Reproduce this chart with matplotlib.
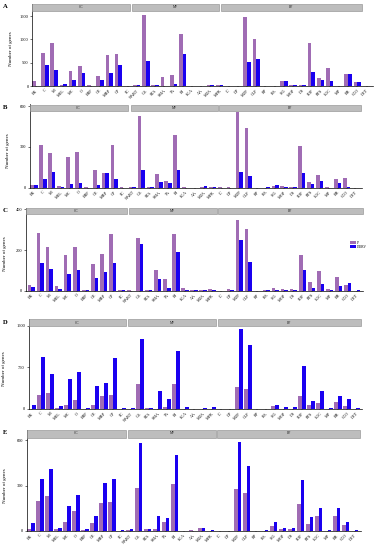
import matplotlib
matplotlib.use("Agg")
import matplotlib.pyplot as plt
from matplotlib.patches import Rectangle, Patch
import numpy as np

plt.rcParams['font.family'] = ['Liberation Serif', 'DejaVu Serif']

categories = ["EK", "C", "M", "MEL", "MC", "O", "ERP", "OE", "MBP", "CP", "SC",
              "NABT", "CA", "STA", "SMA", "TA", "BI", "ECA", "AA", "MTA", "MFR",
              "IC", "DP", "MTP", "CLP", "RP", "RA", "SIG", "MOP", "DS", "SOP",
              "RTS", "LOC", "MP", "BR", "CCO", "DET"]
groups = ["CC", "MF", "BP"]
series = ["IP", "DORV"]

ip_A = [107, 714, 914, 20, 321, 429, 14, 207, 671, 686, 0,
        14, 1528, 29, 200, 236, 1107, 0, 0, 29, 14,
        0, 0, 1471, 1014, 0, 0, 100, 29, 14, 914, 171, 393, 0, 264, 86, 0]
dorv_A = [5, 443, 343, 36, 129, 286, 0, 121, 271, 443, 0,
          21, 529, 29, 0, 43, 686, 0, 0, 14, 14,
          0, 0, 507, 571, 0, 0, 100, 14, 14, 300, 129, 114, 0, 250, 86, 0]

ip_B = [20, 315, 253, 15, 229, 261, 2, 128, 111, 312, 2,
        5, 531, 5, 103, 49, 389, 2, 0, 2, 2,
        2, 2, 556, 438, 0, 0, 15, 10, 7, 310, 44, 96, 2, 64, 71, 0]
dorv_B = [22, 66, 118, 5, 27, 37, 0, 22, 106, 64, 0,
          7, 128, 7, 44, 37, 128, 0, 0, 10, 2,
          0, 0, 113, 89, 0, 2, 20, 5, 3, 106, 25, 47, 0, 37, 7, 0]

ip_C = [30, 282, 215, 21, 175, 215, 2, 130, 180, 277, 3,
        3, 261, 2, 102, 56, 277, 15, 2, 2, 10,
        0, 10, 346, 302, 0, 2, 15, 7, 8, 174, 44, 95, 10, 67, 28, 0]
dorv_C = [18, 134, 105, 10, 80, 103, 5, 64, 90, 134, 3,
          0, 228, 3, 59, 15, 192, 2, 2, 5, 2,
          0, 2, 251, 141, 0, 3, 5, 5, 3, 102, 15, 34, 2, 23, 36, 2]

ip_D = [6, 258, 288, 12, 66, 156, 0, 66, 228, 258, 0,
        6, 444, 12, 6, 42, 456, 6, 0, 0, 6,
        0, 0, 396, 354, 0, 0, 48, 6, 6, 234, 66, 102, 6, 120, 48, 0]
dorv_D = [66, 930, 630, 54, 546, 660, 12, 408, 468, 918, 12,
          18, 1266, 18, 330, 186, 1044, 30, 6, 12, 30,
          6, 6, 1440, 1158, 2, 6, 66, 42, 42, 768, 138, 324, 18, 228, 180, 12]

ip_E = [11, 199, 234, 15, 62, 130, 4, 53, 183, 194, 2,
        9, 285, 11, 15, 57, 309, 0, 4, 18, 2,
        2, 2, 280, 249, 0, 2, 33, 11, 11, 176, 49, 99, 2, 101, 40, 0]
dorv_E = [55, 346, 408, 18, 163, 236, 11, 101, 318, 342, 4,
          15, 585, 15, 101, 88, 503, 2, 2, 22, 9,
          2, 2, 587, 430, 2, 9, 57, 22, 18, 340, 90, 154, 7, 154, 60, 4]

yticks_A = [0, 500, 1000, 1500]
yticks_B = [0, 300, 600]
yticks_C = [0, 200, 400]
yticks_D = [0, 750, 1500]
yticks_E = [0, 300, 600]

IP_COLOR = "#a06cb4"
DORV_COLOR = "#1a00f0"

W, H = 381, 550
fig = plt.figure(figsize=(W / 100, H / 100), dpi=100)

# layout per panel: letter, data, ticks, spine_x, first-center x, spacing,
# header top, header bottom, zero line y, y units per px, ylabel x, header boxes
panels = [
    ("A", ip_A, dorv_A, yticks_A, 32.3, 35.7, 9.19, 4.0, 11.0, 86.0, 1500 / 70.0, 13,
     [(32.3, 130), (132, 219), (221, 362)]),
    ("B", ip_B, dorv_B, yticks_B, 29.5, 34.0, 8.93, 104.5, 111.0, 187.7, 600 / 81.4, 10,
     [(29.5, 128), (130.7, 217.7), (219.3, 360.7)]),
    ("C", ip_C, dorv_C, yticks_C, 26.0, 31.3, 9.04, 207.5, 214.0, 290.7, 200 / 40.7, 7,
     [(26.0, 126.7), (129, 216.7), (218.3, 362.7)]),
    ("D", ip_D, dorv_D, yticks_D, 28.5, 32.0, 9.0, 319.0, 326.0, 409.0, 750 / 41.7, 6,
     [(28.5, 126), (128, 216), (217.7, 360.7)]),
    ("E", ip_E, dorv_E, yticks_E, 26.7, 31.0, 8.99, 429.5, 437.5, 531.0, 300 / 45.3, 7,
     [(26.7, 126), (128.3, 216), (217.3, 360)]),
]

x = np.arange(len(categories))
bw = 0.4
axes = []
for (letter, ip, dorv, yt, spine, ek, sp, htop, hbot, zero, upp, ylx, boxes) in panels:
    xl0 = -(ek - spine) / sp
    xl1 = 36.7
    right = spine + (xl1 - xl0) * sp
    ax = fig.add_axes([spine / W, 1 - zero / H, (right - spine) / W, (zero - htop) / H])
    ax.bar(x - bw / 2, ip, width=bw, color=IP_COLOR, linewidth=0, label=series[0])
    ax.bar(x + bw / 2, dorv, width=bw, color=DORV_COLOR, linewidth=0, label=series[1])
    ax.set_xlim(xl0, xl1)
    ax.set_ylim(0, (zero - htop) * upp)
    ax.set_yticks(yt)
    ax.set_yticklabels([str(v) for v in yt])
    ax.set_xticks(x)
    ax.set_xticklabels(categories, rotation=45, ha='right', rotation_mode='anchor')
    ax.tick_params(axis='y', direction='out', length=1.6, width=0.4, labelsize=3.2, pad=1)
    ax.tick_params(axis='x', direction='out', length=1.0, width=0.3, labelsize=3.0, pad=0.8)
    for s in ['top', 'right']:
        ax.spines[s].set_visible(False)
    for s in ['left', 'bottom']:
        ax.spines[s].set_linewidth(0.5)
    ax.set_ylabel("Number of genes", fontsize=3.6, labelpad=0)
    ax.yaxis.set_label_coords((ylx - spine) / (right - spine), 0.45)
    axes.append((ax, letter, htop, hbot, boxes))

# overlay for strip headers and panel letters
ov = fig.add_axes([0, 0, 1, 1], zorder=10)
ov.set_xlim(0, W)
ov.set_ylim(H, 0)
ov.axis('off')
ov.patch.set_alpha(0)
letter_pos = {"A": (3, 7), "B": (3, 107.5), "C": (3, 211), "D": (3, 322), "E": (3, 432)}
for ax, letter, htop, hbot, boxes in axes:
    for (x0, x1), g in zip(boxes, groups):
        ov.add_patch(Rectangle((x0, htop), x1 - x0, hbot - htop, facecolor="#bdbdbd",
                               edgecolor="#8a8a8a", linewidth=0.4))
        ov.text((x0 + x1) / 2, (htop + hbot) / 2, g, fontsize=2.6, ha='center',
                va='center', color='#222222')
    lx, ly = letter_pos[letter]
    ov.text(lx, ly, letter, fontsize=4.8, fontweight='bold', ha='left', va='center')

# legend in panel C
axC = axes[2][0]
handles = [Patch(facecolor=IP_COLOR, edgecolor='none'), Patch(facecolor=DORV_COLOR, edgecolor='none')]
fig.legend(handles, series, loc='upper left', bbox_to_anchor=(348 / W, 1 - 238.5 / H),
           frameon=False, fontsize=2.6, handlelength=1.6, handleheight=1.1,
           handletextpad=0.3, labelspacing=0.05, borderpad=0.1)

fig.savefig("out.png", dpi=100, facecolor='white')
